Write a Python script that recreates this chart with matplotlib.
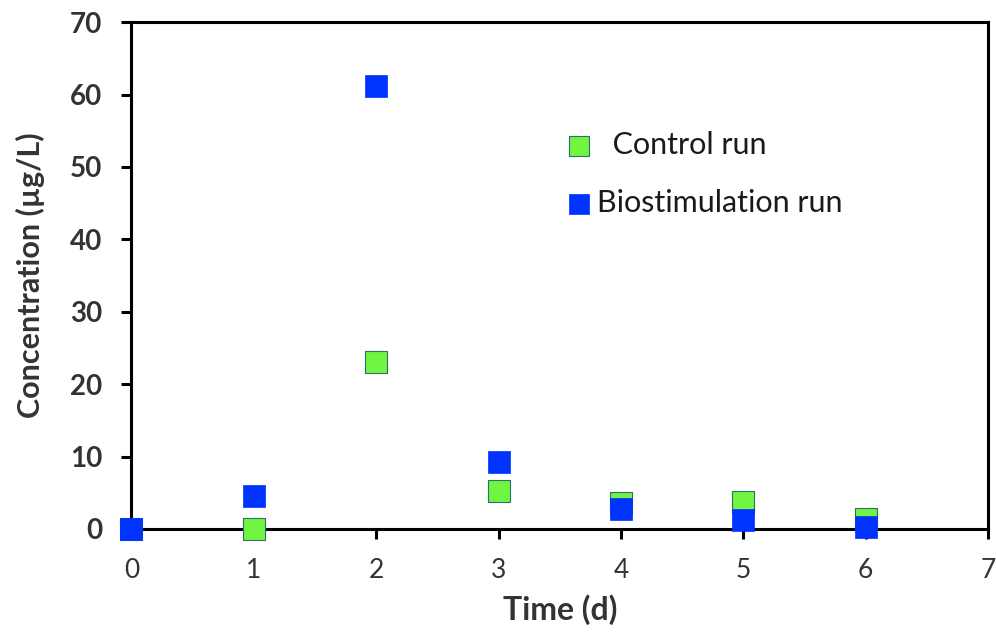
import matplotlib
matplotlib.use('Agg')
import matplotlib.pyplot as plt

# dane odcitane s slike
time_d = [0, 1, 2, 3, 4, 5, 6]
control = [0.0, 0.0, 23.1, 5.2, 3.6, 3.7, 1.4]
biostim = [0.0, 4.6, 61.2, 9.3, 2.7, 1.3, 0.3]

plt.rcParams['font.family'] = ['Lato', 'DejaVu Sans']

fig = plt.figure(figsize=(9.96, 6.32), dpi=100)
ax = fig.add_axes([0.132, 0.163, 0.860, 0.802])

ax.scatter(time_d, control, marker='s', s=250, color='#70F540', edgecolors='#2E6E6E',
           linewidths=0.8, label='  Control run', zorder=3, clip_on=False)
ax.scatter(time_d, biostim, marker='s', s=250, color='#0033FF', edgecolors='#0033FF',
           linewidths=0.5, label='Biostimulation run', zorder=4, clip_on=False)

ax.set_xlim(0, 7)
ax.set_ylim(0, 70)
ax.set_xticks(range(0, 8))
ax.set_yticks(range(0, 71, 10))

for s in ax.spines.values():
    s.set_linewidth(2.2)
    s.set_color('black')
ax.tick_params(direction='out', length=7, width=2.2)
ax.tick_params(axis='x', labelsize=19, labelcolor='#333333', pad=14)
ax.tick_params(axis='y', labelsize=20, labelcolor='#333333', pad=14)
for lab in ax.get_yticklabels():
    lab.set_fontweight('bold')

ax.set_xlabel('Time (d)', fontsize=23, fontweight='bold', color='#333333', labelpad=8)
ax.set_ylabel('Concentration (µg/L)', fontsize=22, fontweight='bold', color='#333333', labelpad=18)

leg = ax.legend(loc='upper left', bbox_to_anchor=(0.455, 0.839), frameon=False,
                fontsize=22, handletextpad=-0.42, labelspacing=0.98, markerscale=0.9)
for t in leg.get_texts():
    t.set_color('#1a1a1a')

plt.savefig('out.png', dpi=100)
